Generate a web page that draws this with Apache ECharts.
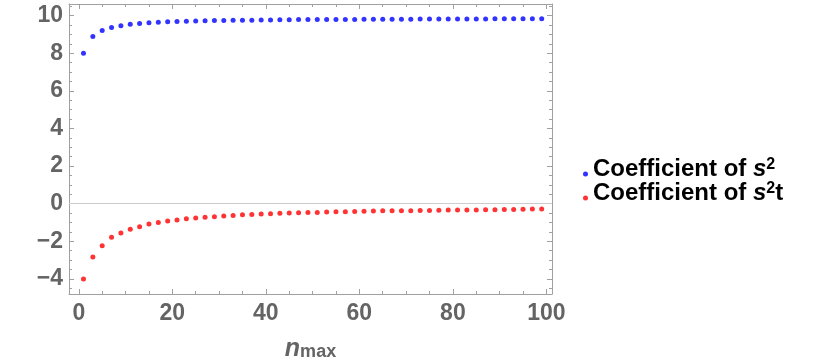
<!DOCTYPE html>
<html><head><meta charset="utf-8">
<script src="https://cdn.jsdelivr.net/npm/echarts@6/dist/echarts.min.js"></script>
<style>html,body{margin:0;padding:0;background:#fff}#c{width:817px;height:364px}</style>
</head><body><div id="c"></div>
<script>
// n_max values (odd numbers 1..99)
const nMax = [1,3,5,7,9,11,13,15,17,19,21,23,25,27,29,31,33,35,37,39,41,43,45,47,49,51,53,55,57,59,61,63,65,67,69,71,73,75,77,79,81,83,85,87,89,91,93,95,97,99];
// Coefficient of s^2 (blue)
const coeffS2 = [8.00,8.89,9.21,9.37,9.47,9.54,9.58,9.62,9.65,9.67,9.69,9.70,9.72,9.73,9.74,9.74,9.75,9.76,9.76,9.77,9.77,9.78,9.78,9.79,9.79,9.79,9.80,9.80,9.80,9.80,9.81,9.81,9.81,9.81,9.81,9.81,9.82,9.82,9.82,9.82,9.82,9.82,9.82,9.82,9.83,9.83,9.83,9.83,9.83,9.83];
// Coefficient of s^2 t (red)
const coeffS2t = [-4.00,-2.83,-2.23,-1.78,-1.55,-1.36,-1.22,-1.08,-1.00,-0.92,-0.86,-0.80,-0.76,-0.72,-0.69,-0.65,-0.62,-0.59,-0.57,-0.55,-0.53,-0.51,-0.49,-0.48,-0.47,-0.46,-0.44,-0.43,-0.42,-0.41,-0.40,-0.39,-0.38,-0.38,-0.37,-0.37,-0.36,-0.36,-0.35,-0.34,-0.34,-0.33,-0.33,-0.32,-0.32,-0.31,-0.31,-0.30,-0.28,-0.28];
const seriesNames = ['Coefficient of s²', 'Coefficient of s²t'];
const legendRich = ['{a|Coefficient of }{i|s}{p|2}', '{a|Coefficient of }{i|s}{p|2}{a|t}'];
const xName = '{n|n}{s|max}';

const FONT = '"Liberation Sans", Arial, sans-serif';
const frameColor = '#a0a0a0';
const labelColor = '#646464';

function xAxisCfg(pos, showLabels) {
  return {
    type: 'value', position: pos, min: -2.1, max: 101.2,
    splitNumber: 5, minInterval: 20, maxInterval: 20,
    axisLine: { show: true, onZero: false, lineStyle: { color: frameColor, width: 1 } },
    axisTick: { show: true, inside: true, length: 5, lineStyle: { color: frameColor } },
    minorTick: { show: true, splitNumber: 4, length: 3, lineStyle: { color: frameColor } },
    splitLine: { show: false }, minorSplitLine: { show: false },
    axisLabel: { show: showLabels, showMinLabel: false, showMaxLabel: false, fontSize: 23, fontWeight: 'bold', color: labelColor, fontFamily: FONT, margin: 8 },
    name: showLabels ? xName : '', nameLocation: 'middle', nameGap: 43,
    nameTextStyle: {
      lineHeight: 30,
      rich: {
        n: { fontSize: 25, fontStyle: 'italic', fontWeight: 'bold', color: labelColor, fontFamily: FONT, verticalAlign: 'top', lineHeight: 24 },
        s: { fontSize: 18, fontWeight: 'bold', color: labelColor, fontFamily: FONT, verticalAlign: 'bottom', lineHeight: 20 }
      }
    }
  };
}
function yAxisCfg(pos, showLabels) {
  return {
    type: 'value', position: pos, min: -4.8, max: 10.62,
    splitNumber: 7, minInterval: 2, maxInterval: 2,
    axisLine: { show: true, onZero: false, lineStyle: { color: frameColor, width: 1 } },
    axisTick: { show: true, inside: true, length: 5, lineStyle: { color: frameColor } },
    minorTick: { show: true, splitNumber: 4, length: 3, lineStyle: { color: frameColor } },
    splitLine: { show: false }, minorSplitLine: { show: false },
    axisLabel: { show: showLabels, showMinLabel: false, showMaxLabel: false, fontSize: 23, fontWeight: 'bold', color: labelColor, fontFamily: FONT, margin: 6,
      formatter: v => (v < 0 ? '\u2212' + Math.abs(v) : String(v)) }
  };
}

const chart = echarts.init(document.getElementById('c'), null, { renderer: 'canvas' });
chart.setOption({
  animation: false,
  backgroundColor: '#fff',
  grid: { left: 69, top: 4, width: 483, height: 290, outerBoundsMode: 'none' },
  xAxis: [xAxisCfg('bottom', true), xAxisCfg('top', false)],
  yAxis: [yAxisCfg('left', true), yAxisCfg('right', false)],
  legend: {
    orient: 'vertical', left: 578, top: 152, itemWidth: 5, itemHeight: 15, itemGap: 0,
    icon: 'path://M2.5,0L2.5,0.01M0,12.5a2.5,2.5 0 1,0 5,0a2.5,2.5 0 1,0 -5,0',
    data: seriesNames,
    formatter: name => legendRich[seriesNames.indexOf(name)],
    textStyle: {
      color: '#000', fontFamily: FONT, fontSize: 24, fontWeight: 'bold',
      rich: {
        a: { fontSize: 24, fontWeight: 'bold', color: '#000', fontFamily: FONT, lineHeight: 24 },
        i: { fontSize: 24, fontWeight: 'bold', fontStyle: 'italic', color: '#000', fontFamily: FONT, lineHeight: 24 },
        p: { fontSize: 16, fontWeight: 'bold', color: '#000', fontFamily: FONT, lineHeight: 8, verticalAlign: 'top' }
      }
    }
  },
  series: [
    {
      name: seriesNames[0], type: 'scatter', xAxisIndex: 0, yAxisIndex: 0,
      symbol: 'circle', symbolSize: 5, itemStyle: { color: '#0000ff' },
      data: nMax.map((n, i) => [n, coeffS2[i]]),
      markLine: { silent: true, symbol: 'none', label: { show: false }, z: 1,
        lineStyle: { color: '#cccccc', type: 'solid', width: 1 }, emphasis: { disabled: true },
        data: [{ yAxis: 0 }] }
    },
    {
      name: seriesNames[1], type: 'scatter', xAxisIndex: 0, yAxisIndex: 0,
      symbol: 'circle', symbolSize: 5, itemStyle: { color: '#ff0000' },
      data: nMax.map((n, i) => [n, coeffS2t[i]])
    }
  ]
});
</script></body></html>
